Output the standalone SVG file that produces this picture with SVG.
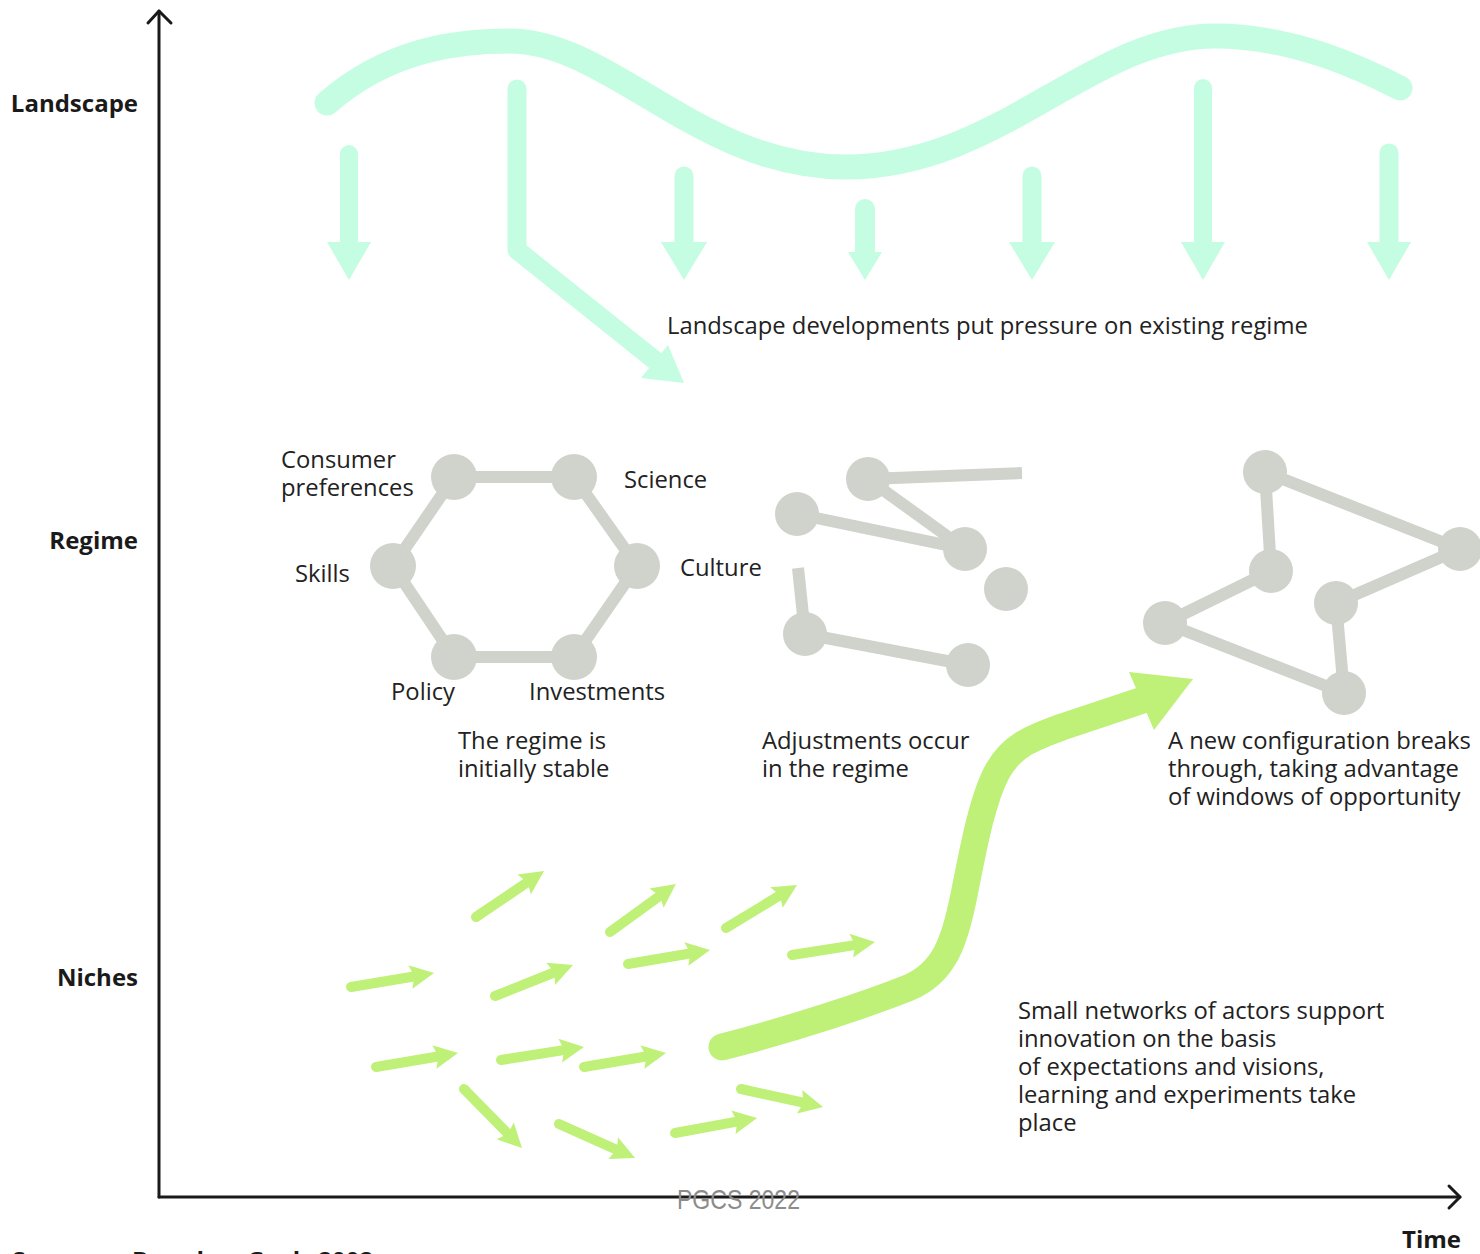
<svg xmlns="http://www.w3.org/2000/svg" width="1480" height="1254" viewBox="0 0 1480 1254">
  <defs>
    <style>
      .axis { fill: none; stroke: #1a1a1a; stroke-width: 3; stroke-linecap: round; stroke-linejoin: round; }
      .lvl { font-family: 'Open Sans', 'Noto Sans', sans-serif; font-weight: 700; font-size: 24px; fill: #1a1a1a; }
      .txt { font-family: 'Open Sans', 'Noto Sans', sans-serif; font-size: 23.8px; fill: #222; }
      .mint { fill: none; stroke: #c4fde1; stroke-linecap: round; stroke-linejoin: round; }
      .mintfill { fill: #c4fde1; }
      .edge { stroke: #cfd3cb; stroke-width: 12; stroke-linecap: butt; fill: none; }
      .node { fill: #cfd3cb; }
      .niche { fill: none; stroke: #bff078; stroke-width: 10; stroke-linecap: round; marker-end: url(#head); }
      .big { fill: none; stroke: #bff078; stroke-width: 27; stroke-linecap: round; stroke-linejoin: round; }
      .wm { font-family: 'Liberation Sans', Arial, sans-serif; font-size: 28px; fill: #8c8c8c; }
    </style>
    <marker id="head" markerUnits="userSpaceOnUse" viewBox="-6 -15 30 30" markerWidth="30" markerHeight="30" refX="0" refY="0" orient="auto">
      <path d="M-5,-12 L19,0 L-5,12 L-1,0 z" fill="#bff078"/>
    </marker>
  </defs>

  <rect width="1480" height="1254" fill="#ffffff"/>

  <!-- axes -->
  <g id="axes">
    <path class="axis" d="M159,1197 L159,11"/>
    <path class="axis" d="M148,23 L159,11 L171,23"/>
    <path class="axis" d="M159,1197 L1460,1197"/>
    <path class="axis" d="M1449,1186 L1460,1197 L1449,1208"/>
    <text class="lvl" x="138" y="112" text-anchor="end">Landscape</text>
    <text class="lvl" x="138" y="549" text-anchor="end">Regime</text>
    <text class="lvl" x="138" y="986" text-anchor="end">Niches</text>
    <text class="lvl" x="1461" y="1248" text-anchor="end">Time</text>
  </g>

  <!-- landscape wave and pressure arrows -->
  <g id="landscape">
    <path class="mint" stroke-width="25" d="M327,103 C390,48 460,41 510,41 C610,41 700,167 845,167 C1000,167 1090,36 1215,36 C1295,36 1365,70 1400,88"/>
    <g id="pressure-1">
      <line class="mint" stroke-width="18" x1="349" y1="154" x2="349" y2="244"/>
      <polygon class="mintfill" points="327,242 371,242 349,280"/>
    </g>
    <g id="pressure-2">
      <path class="mint" stroke-width="19" d="M517,89 L517,250 L657,362"/>
      <polygon class="mintfill" points="684,383 641,378 668,345"/>
    </g>
    <g id="pressure-3">
      <line class="mint" stroke-width="19" x1="684" y1="176" x2="684" y2="244"/>
      <polygon class="mintfill" points="661,242 707,242 684,280"/>
    </g>
    <g id="pressure-4">
      <line class="mint" stroke-width="20" x1="865" y1="209" x2="865" y2="254"/>
      <polygon class="mintfill" points="848,252 882,252 865,280"/>
    </g>
    <g id="pressure-5">
      <line class="mint" stroke-width="19" x1="1032" y1="176" x2="1032" y2="244"/>
      <polygon class="mintfill" points="1009,242 1055,242 1032,280"/>
    </g>
    <g id="pressure-6">
      <line class="mint" stroke-width="18" x1="1203" y1="88" x2="1203" y2="244"/>
      <polygon class="mintfill" points="1181,242 1225,242 1203,280"/>
    </g>
    <g id="pressure-7">
      <line class="mint" stroke-width="19" x1="1389" y1="153" x2="1389" y2="244"/>
      <polygon class="mintfill" points="1367,242 1411,242 1389,280"/>
    </g>
    <text class="txt" x="667" y="334">Landscape developments put pressure on existing regime</text>
  </g>

  <!-- regime connectors -->
  <g id="connectors">
    <!-- stable hexagon -->
    <path class="edge" d="M454,477 L574,477 L637,566 L574,657 L454,657 L393,566 Z"/>
    <!-- adjusting regime -->
    <line class="edge" x1="868" y1="479" x2="1022" y2="473"/>
    <line class="edge" x1="868" y1="479" x2="965" y2="549"/>
    <line class="edge" x1="797" y1="514" x2="965" y2="549"/>
    <line class="edge" x1="805" y1="634" x2="968" y2="665"/>
    <line class="edge" x1="805" y1="634" x2="798" y2="568"/>
    <!-- new configuration -->
    <line class="edge" x1="1265" y1="472" x2="1460" y2="549"/>
    <line class="edge" x1="1265" y1="472" x2="1271" y2="571"/>
    <line class="edge" x1="1271" y1="571" x2="1165" y2="623"/>
    <line class="edge" x1="1165" y1="623" x2="1344" y2="693"/>
    <line class="edge" x1="1336" y1="603" x2="1460" y2="549"/>
    <line class="edge" x1="1336" y1="603" x2="1344" y2="693"/>
  </g>

  <!-- stable regime nodes -->
  <g id="consumer-preferences">
    <circle class="node" cx="454" cy="477" r="23"/>
    <text class="txt" x="281" y="468">Consumer</text>
    <text class="txt" x="281" y="496">preferences</text>
  </g>
  <g id="science">
    <circle class="node" cx="574" cy="477" r="23"/>
    <text class="txt" x="624" y="488">Science</text>
  </g>
  <g id="culture">
    <circle class="node" cx="637" cy="566" r="23"/>
    <text class="txt" x="680" y="576">Culture</text>
  </g>
  <g id="investments">
    <circle class="node" cx="574" cy="657" r="23"/>
    <text class="txt" x="529" y="700">Investments</text>
  </g>
  <g id="policy">
    <circle class="node" cx="454" cy="657" r="23"/>
    <text class="txt" x="391" y="700">Policy</text>
  </g>
  <g id="skills">
    <circle class="node" cx="393" cy="566" r="23"/>
    <text class="txt" x="295" y="582">Skills</text>
  </g>
  <g id="stable-caption">
    <text class="txt" x="458" y="749">The regime is</text>
    <text class="txt" x="458" y="777">initially stable</text>
  </g>

  <!-- adjusting regime nodes -->
  <g id="adjust-a"><circle class="node" cx="868" cy="479" r="22"/></g>
  <g id="adjust-b"><circle class="node" cx="797" cy="514" r="22"/></g>
  <g id="adjust-c"><circle class="node" cx="965" cy="549" r="22"/></g>
  <g id="adjust-d"><circle class="node" cx="1006" cy="589" r="22"/></g>
  <g id="adjust-e"><circle class="node" cx="805" cy="634" r="22"/></g>
  <g id="adjust-f"><circle class="node" cx="968" cy="665" r="22"/></g>
  <g id="adjust-caption">
    <text class="txt" x="762" y="749">Adjustments occur</text>
    <text class="txt" x="762" y="777">in the regime</text>
  </g>

  <!-- new configuration nodes -->
  <g id="new-a"><circle class="node" cx="1265" cy="472" r="22"/></g>
  <g id="new-b"><circle class="node" cx="1460" cy="549" r="22"/></g>
  <g id="new-c"><circle class="node" cx="1271" cy="571" r="22"/></g>
  <g id="new-d"><circle class="node" cx="1336" cy="603" r="22"/></g>
  <g id="new-e"><circle class="node" cx="1165" cy="623" r="22"/></g>
  <g id="new-f"><circle class="node" cx="1344" cy="693" r="22"/></g>
  <g id="new-caption">
    <text class="txt" x="1168" y="749">A new configuration breaks</text>
    <text class="txt" x="1168" y="777">through, taking advantage</text>
    <text class="txt" x="1168" y="805">of windows of opportunity</text>
  </g>

  <!-- niche experiments -->
  <g id="niches">
    <line class="niche" x1="476" y1="917" x2="528.3" y2="881.6"/>
    <line class="niche" x1="610" y1="932" x2="660.6" y2="895.2"/>
    <line class="niche" x1="726" y1="928" x2="780.8" y2="894.8"/>
    <line class="niche" x1="351" y1="987" x2="415.3" y2="976.2"/>
    <line class="niche" x1="495" y1="996" x2="555.3" y2="972.0"/>
    <line class="niche" x1="628" y1="964" x2="691.3" y2="953.2"/>
    <line class="niche" x1="792" y1="955" x2="856.2" y2="944.9"/>
    <line class="niche" x1="376" y1="1067" x2="439.3" y2="1056.2"/>
    <line class="niche" x1="501" y1="1060" x2="565.2" y2="1049.9"/>
    <line class="niche" x1="584" y1="1067" x2="647.3" y2="1056.2"/>
    <line class="niche" x1="464" y1="1089" x2="508.7" y2="1134.5"/>
    <line class="niche" x1="559" y1="1124" x2="617.7" y2="1150.2"/>
    <line class="niche" x1="675" y1="1133" x2="738.3" y2="1121.4"/>
    <line class="niche" x1="741" y1="1089" x2="804.5" y2="1102.9"/>
  </g>

  <!-- breakthrough trajectory -->
  <g id="breakthrough">
    <path class="big" d="M722,1047 C800,1027 870,1003 908,988 C945,973 955,940 964,895 C973,850 982,800 997,772 C1012,745 1032,738 1062,727 L1143,700"/>
    <polygon fill="#bff078" points="1193,679 1129,672 1154,730"/>
  </g>
  <g id="niche-caption">
    <text class="txt" x="1018" y="1019">Small networks of actors support</text>
    <text class="txt" x="1018" y="1047">innovation on the basis</text>
    <text class="txt" x="1018" y="1075">of expectations and visions,</text>
    <text class="txt" x="1018" y="1103">learning and experiments take</text>
    <text class="txt" x="1018" y="1131">place</text>
  </g>

  <text class="wm" x="677" y="1209" textLength="123" lengthAdjust="spacingAndGlyphs">PGCS 2022</text>
  <text class="lvl" x="12" y="1269" font-size="22">Source:<tspan x="132">Based on Geels 2002</tspan></text>
</svg>
